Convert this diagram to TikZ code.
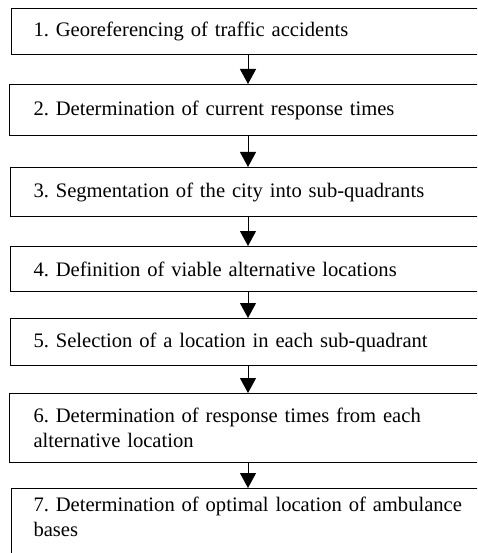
\documentclass[tikz,border=0pt]{standalone}
\usepackage{fontspec}
\setmainfont{Liberation Serif}
\usetikzlibrary{arrows.meta}
\begin{document}
\frenchspacing
\begin{tikzpicture}[x=1pt,y=1pt,
  stepbox/.style={draw=black, line width=1pt, rectangle, anchor=north west, align=left,
    font=\fontsize{20.6}{25}\selectfont\frenchspacing, text width=450pt, inner ysep=0pt},
  flow/.style={draw=black, line width=1pt, -{Triangle[width=16pt,length=15pt]}}]
\useasboundingbox (0,0) rectangle (477,-553);
\clip (0,0) rectangle (477,-553);
\coordinate (ax) at (248,0);
\node[stepbox, minimum height=46pt, inner xsep=22pt] (b1) at (11,-8) {1. Georeferencing of traffic accidents};
\node[stepbox, minimum height=51pt, inner xsep=24pt] (b2) at (9,-84) {2. Determination of current response times};
\node[stepbox, minimum height=49pt, inner xsep=23pt] (b3) at (10,-167) {3. Segmentation of the city into sub-quadrants};
\node[stepbox, minimum height=45pt, inner xsep=23pt] (b4) at (10,-246) {4. Definition of viable alternative locations};
\node[stepbox, minimum height=47pt, inner xsep=23pt] (b5) at (10,-318) {5. Selection of a location in each sub-quadrant};
\node[stepbox, minimum height=69pt, inner xsep=24pt] (b6) at (9,-393) {6. Determination of response times from each\\alternative location};
\node[stepbox, inner ysep=8.5pt, inner xsep=22pt] (b7) at (11,-488) {7. Determination of optimal location of ambulance\\bases\rule[-40pt]{0pt}{40pt}};
\draw[flow] (b1.south -| ax) -- (b2.north -| ax);
\draw[flow] (b2.south -| ax) -- (b3.north -| ax);
\draw[flow] (b3.south -| ax) -- (b4.north -| ax);
\draw[flow] (b4.south -| ax) -- (b5.north -| ax);
\draw[flow] (b5.south -| ax) -- (b6.north -| ax);
\draw[flow] (b6.south -| ax) -- (b7.north -| ax);
\end{tikzpicture}
\end{document}
